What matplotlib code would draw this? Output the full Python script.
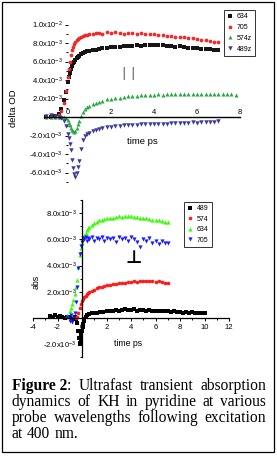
import numpy as np
import matplotlib
matplotlib.use('Agg')
import matplotlib.pyplot as plt
from matplotlib.patches import Rectangle

# ---------------- data (values in units of 1e-3) ----------------
# parallel polarisation (top panel)
t_par = [-1.0, -0.8, -0.6, -0.4, -0.3, -0.2, -0.1, 0.0, 0.05, 0.1,
         0.15, 0.2, 0.25, 0.3, 0.35, 0.4, 0.45, 0.5, 0.6, 0.7,
         0.8, 0.9, 1.0, 1.15, 1.3, 1.45, 1.6, 1.8, 2.0, 2.2,
         2.4, 2.6, 2.8, 3.0, 3.2, 3.4, 3.6, 3.8, 4.0, 4.2,
         4.4, 4.6, 4.8, 5.0, 5.2, 5.4, 5.6, 5.8, 6.0, 6.2,
         6.4, 6.6, 6.8, 7.0]
t_574z = t_par + [7.2, 7.4, 7.6, 7.8]

par_634 = [0.05, 0.0, 0.1, 0.3, 0.9, 1.8, 2.7, 3.8, 4.3, 4.8,
           5.2, 5.5, 5.8, 6.0, 6.2, 6.4, 6.5, 6.6, 6.8, 6.9,
           7.0, 7.1, 7.15, 7.2, 7.3, 7.35, 7.45, 7.5, 7.55, 7.6,
           7.6, 7.65, 7.7, 7.7, 7.75, 7.7, 7.75, 7.8, 7.75, 7.8,
           7.75, 7.7, 7.7, 7.6, 7.65, 7.55, 7.5, 7.5, 7.45, 7.4,
           7.35, 7.35, 7.3, 7.25]
par_705 = [0.0, 0.05, 0.0, 0.2, 0.6, 1.5, 2.8, 4.3, 5.2, 6.0,
           6.7, 7.2, 7.6, 7.9, 8.1, 8.3, 8.4, 8.5, 8.7, 8.8,
           8.9, 8.9, 9.0, 9.0, 9.05, 9.1, 9.0, 9.2, 9.1, 9.15,
           9.1, 9.0, 9.1, 9.05, 9.0, 9.05, 9.0, 8.95, 9.0, 8.85,
           8.9, 8.8, 8.75, 8.7, 8.6, 8.65, 8.5, 8.5, 8.4, 8.35,
           8.3, 8.2, 8.15, 8.1]
par_574z = [0.0, 0.05, 0.0, -0.05, 0.0, -0.05, -0.1, -0.3, -0.6, -0.9,
            -1.2, -1.4, -1.55, -1.6, -1.5, -1.2, -0.8, -0.4, 0.15, 0.55,
            0.85, 1.05, 1.2, 1.4, 1.55, 1.65, 1.75, 1.9, 2.0, 2.05,
            2.1, 2.2, 2.25, 2.3, 2.3, 2.35, 2.4, 2.35, 2.4, 2.45,
            2.4, 2.45, 2.5, 2.45, 2.5, 2.45, 2.5, 2.5, 2.45, 2.5,
            2.5, 2.45, 2.5, 2.5, 2.45, 2.5, 2.45, 2.4]
par_489z = [0.15, 0.2, 0.1, 0.05, -0.1, -0.4, -1.0, -1.8, -2.3, -2.9,
            -3.6, -4.6, -5.5, -6.2, -6.5, -6.1, -5.4, -4.7, -3.5, -2.5,
            -2.1, -1.85, -1.7, -1.5, -1.35, -1.25, -1.2, -1.1, -1.05, -1.0,
            -0.95, -0.9, -0.9, -0.85, -0.85, -0.8, -0.8, -0.75, -0.8, -0.7,
            -0.75, -0.7, -0.65, -0.65, -0.6, -0.65, -0.6, -0.55, -0.6, -0.55,
            -0.5, -0.55, -0.5, -0.45]

# perpendicular polarisation (bottom panel)
t_489 = [-2.6, -2.4, -2.2, -2.0, -1.8, -1.6, -1.4, -1.2, -1.0, -0.8,
         -0.6, -0.5, -0.4, -0.3, -0.25, -0.2, -0.15, -0.1, -0.05, 0.0,
         0.05, 0.1, 0.15, 0.2, 0.3, 0.4, 0.6, 0.8, 1.0, 1.25,
         1.5, 1.75, 2.0, 2.25, 2.5, 2.75, 3.0, 3.25, 3.5, 3.75,
         4.0, 4.25, 4.5, 4.75, 5.0, 5.25, 5.5, 5.75, 6.0, 6.25,
         6.5, 6.75, 7.0, 7.25, 7.5, 7.75, 8.0, 8.25, 8.5, 8.75,
         9.0, 9.25, 9.5, 9.75, 10.0]
perp_489 = [0.15, 0.1, 0.2, 0.05, 0.15, 0.1, 0.0, 0.1, 0.05, -0.1,
            0.1, -0.1, -0.4, -1.0, -1.5, -1.9, -2.0, -1.6, -1.3, -1.0,
            -0.7, -0.45, -0.25, -0.1, 0.1, 0.2, 0.3, 0.35, 0.4, 0.4,
            0.45, 0.45, 0.5, 0.5, 0.55, 0.6, 0.55, 0.6, 0.65, 0.6,
            0.6, 0.65, 0.55, 0.6, 0.6, 0.55, 0.6, 0.5, 0.55, 0.5,
            0.55, 0.5, 0.5, 0.45, 0.5, 0.45, 0.45, 0.4, 0.45, 0.4,
            0.45, 0.4, 0.4, 0.35, 0.4]

t_574 = [-0.5, -0.4, -0.3, -0.2, -0.1, 0.0, 0.1, 0.2, 0.3, 0.4,
         0.5, 0.6, 0.8, 1.0, 1.2, 1.4, 1.6, 1.8, 2.0, 2.25,
         2.5, 2.75, 3.0, 3.25, 3.5, 3.75, 4.0, 4.25, 4.5, 4.75,
         5.0, 5.25, 5.5, 5.75, 6.0, 6.25, 6.5, 6.75, 7.0]
perp_574 = [0.0, 0.1, 0.4, 0.8, 1.1, 1.3, 1.45, 1.6, 1.7, 1.8,
            1.9, 1.95, 2.05, 2.15, 2.25, 2.35, 2.4, 2.45, 2.5, 2.55,
            2.6, 2.6, 2.65, 2.7, 2.7, 2.75, 2.75, 2.8, 2.75, 2.8,
            2.8, 2.85, 2.8, 2.8, 2.75, 2.8, 2.75, 2.7, 2.7]

t_perp = [-1.2, -1.0, -0.9, -0.8, -0.7, -0.6, -0.5, -0.4, -0.3, -0.2,
          -0.1, 0.0, 0.1, 0.2, 0.3, 0.4, 0.5, 0.6, 0.8, 1.0,
          1.2, 1.4, 1.6, 1.8, 2.0, 2.25, 2.5, 2.75, 3.0, 3.25,
          3.5, 3.75, 4.0, 4.25, 4.5, 4.75, 5.0, 5.25, 5.5, 5.75,
          6.0, 6.25, 6.5, 6.75, 7.0]
perp_634 = [0.2, 0.5, 0.8, 1.1, 1.4, 1.8, 2.4, 2.9, 3.9, 4.8,
            5.3, 5.7, 6.0, 6.3, 6.5, 6.7, 6.85, 6.95, 7.1, 7.25,
            7.35, 7.45, 7.5, 7.55, 7.6, 7.65, 7.65, 7.7, 7.75, 7.7,
            7.8, 7.75, 7.8, 7.7, 7.7, 7.65, 7.6, 7.6, 7.55, 7.5,
            7.45, 7.45, 7.4, 7.35, 7.3]
perp_705 = [0.1, -0.2, 0.2, -0.3, 0.0, 0.4, 1.2, 2.4, 3.8, 4.9,
            5.5, 5.8, 6.1, 6.0, 6.2, 5.9, 6.1, 6.0, 6.2, 5.9,
            6.1, 6.0, 6.2, 5.9, 6.1, 6.0, 6.1, 5.8, 6.2, 6.0,
            6.1, 5.9, 6.2, 6.0, 5.8, 5.4, 6.0, 5.9, 6.1, 5.7,
            5.9, 5.6, 5.9, 5.7, 5.7]

top_yticks = [-6, -4, -2, 0, 2, 4, 6, 8, 10]
top_ylabels = ['-6.0x10$^{-3}$', '-4.0x10$^{-3}$', '-2.0x10$^{-3}$', '',
               '2.0x10$^{-3}$', '4.0x10$^{-3}$', '6.0x10$^{-3}$',
               '8.0x10$^{-3}$', '1.0x10$^{-2}$']
bot_yticks = [-2, 0, 2, 4, 6, 8]
bot_ylabels = ['-2.0x10$^{-3}$', '', '2.0x10$^{-3}$', '4.0x10$^{-3}$',
               '6.0x10$^{-3}$', '8.0x10$^{-3}$']

caption = [
    [[('Figure 2', 'bold'), (':', 'normal')], [('Ultrafast', 'normal')],
     [('transient', 'normal')], [('absorption', 'normal')]],
    [[(w, 'normal')] for w in 'dynamics of KH in pyridine at various'.split()],
    [[(w, 'normal')] for w in 'probe wavelengths following excitation'.split()],
    [[(w, 'normal')] for w in 'at 400 nm.'.split()],
]

# ---------------- figure ----------------
plt.rcParams['font.family'] = ['Liberation Sans', 'DejaVu Sans']
plt.rcParams['mathtext.fontset'] = 'custom'
plt.rcParams['mathtext.rm'] = 'Liberation Sans'
plt.rcParams['mathtext.default'] = 'regular'

W, H = 277, 458


def fx(x):
    return x / W


def fy(y):
    return 1 - y / H


fig = plt.figure(figsize=(W / 100, H / 100), dpi=100)
fig.patches.append(Rectangle((fx(2), fy(452)), fx(272), (450) / H, transform=fig.transFigure,
                             fill=False, edgecolor='black', linewidth=0.9))

e3 = 1e-3
tick_fs = 5.5

# ---- top panel (parallel) ----
ax1 = fig.add_axes([fx(40), fy(205), 204 / W, 185 / H])
ax1.set_facecolor('none')
ax1.plot(t_par, np.array(par_634) * e3, 's', ms=2.6, mew=0, color='#151515', label='634')
ax1.plot(t_par, np.array(par_705) * e3, 'o', ms=2.7, mew=0, color='#ee2a2a', label='705')
ax1.plot(t_574z, np.array(par_574z) * e3, '^', ms=2.9, mew=0, color='#27a844', label='574z')
ax1.plot(t_par, np.array(par_489z) * e3, 'v', ms=3.2, mew=0, color='#3b3b9e', label='489z')
ax1.set_xlim(-1.30, 8.19)
ax1.set_ylim(-9.51e-3, 10.49e-3)
for s in ['bottom', 'right']:
    ax1.spines[s].set_visible(False)
ax1.spines['left'].set_position(('data', 0))
ax1.spines['left'].set_visible(False)
ax1.spines['top'].set_position(('data', 0))
ax1.spines['top'].set_bounds(-1.1, 8)
ax1.spines['top'].set_linewidth(1.0)
ax1.xaxis.set_ticks_position('top')
ax1.set_xticks([0, 2, 4, 6, 8])
ax1.set_xticklabels(['0', '2', '4', '6', '8'])
ax1.tick_params(axis='x', length=0, pad=1, labelsize=tick_fs)
ax1.yaxis.set_ticks_position('left')
ax1.set_yticks(np.array(top_yticks) * e3)
ax1.set_yticklabels(top_ylabels)
ax1.set_yticks(np.array([-7, -5, -3, -1, 1, 3, 5, 7, 9]) * e3, minor=True)
ax1.tick_params(axis='y', which='major', direction='out', length=2.5, width=0.7,
                pad=1.5, labelsize=tick_fs)
ax1.tick_params(axis='y', which='minor', direction='out', length=1.5, width=0.7)
leg1 = ax1.legend(loc='upper left', bbox_to_anchor=(fx(224), fy(10)),
                  bbox_transform=fig.transFigure, fontsize=5, frameon=True,
                  fancybox=False, borderpad=0.45, labelspacing=0.55,
                  handlelength=0.9, handletextpad=0.5, borderaxespad=0,
                  markerscale=1.0)
leg1.get_frame().set_edgecolor('black')
leg1.get_frame().set_linewidth(0.7)

fig.text(fx(13), fy(108), 'delta OD', rotation=90, ha='center', va='center', fontsize=6.8)
fig.text(fx(142), fy(142), 'time ps', ha='center', va='center', fontsize=6.8)
fig.text(fx(129), fy(74), '| |', ha='center', va='center', fontsize=9,
         color='#808080', fontweight='bold', family='DejaVu Sans')

# ---- bottom panel (perpendicular) ----
ax2 = fig.add_axes([fx(28), fy(362), 204 / W, 167 / H])
ax2.set_facecolor('none')
ax2.plot(t_489, np.array(perp_489) * e3, 's', ms=2.8, mew=0, color='black', label='489')
ax2.plot(t_574, np.array(perp_574) * e3, 'o', ms=2.6, mew=0, color='#ff1a1a', label='574')
ax2.plot(t_perp, np.array(perp_634) * e3, '^', ms=3.0, mew=0, color='#33ff00', label='634')
ax2.plot(t_perp, np.array(perp_705) * e3, 'v', ms=3.0, mew=0, color='#1a1aff', label='705')
ax2.set_xlim(-4.41, 12.24)
ax2.set_ylim(-3.35e-3, 9.37e-3)
for s in ['top', 'right']:
    ax2.spines[s].set_visible(False)
ax2.spines['left'].set_position(('data', 0))
ax2.spines['left'].set_bounds(-3e-3, 9e-3)
ax2.spines['bottom'].set_position(('data', 0))
ax2.spines['bottom'].set_bounds(-4, 12)
for s in ['left', 'bottom']:
    ax2.spines[s].set_linewidth(0.9)
ax2.set_xticks([-4, -2, 0, 2, 4, 6, 8, 10, 12])
ax2.set_xticklabels(['-4', '-2', '0', '2', '4', '6', '8', '10', '12'])
ax2.set_xticks([-3, -1, 1, 3, 5, 7, 9, 11], minor=True)
ax2.set_yticks(np.array(bot_yticks) * e3)
ax2.set_yticklabels(bot_ylabels)
ax2.set_yticks(np.array([-3, -1, 1, 3, 5, 7, 9]) * e3, minor=True)
ax2.tick_params(which='major', direction='out', length=2.5, width=0.7, pad=1.5,
                labelsize=tick_fs)
ax2.tick_params(which='minor', direction='out', length=1.5, width=0.7)
leg2 = ax2.legend(loc='upper left', bbox_to_anchor=(fx(184), fy(202)),
                  bbox_transform=fig.transFigure, fontsize=5, frameon=True,
                  fancybox=False, borderpad=0.45, labelspacing=0.5,
                  handlelength=0.9, handletextpad=0.5, borderaxespad=0)
leg2.get_frame().set_edgecolor('black')
leg2.get_frame().set_linewidth(0.7)

fig.text(fx(36), fy(282), 'abs', rotation=90, ha='center', va='center', fontsize=6.3)
fig.text(fx(128), fy(343), 'time ps', ha='center', va='center', fontsize=6.3)
fig.text(fx(134), fy(258), '\u22a5', ha='center', va='center', fontsize=13,
         family='DejaVu Sans', fontweight='bold')

# ---- caption (justified) ----
cap_fs = 11.2
cap_family = 'Liberation Serif'
renderer = fig.canvas.get_renderer()


def text_width(s, weight):
    t = fig.text(0, 0, s, fontsize=cap_fs, family=cap_family, fontweight=weight)
    w = t.get_window_extent(renderer).width
    t.remove()
    return w


left, right = 12, 266
baselines = [390, 406, 422, 438]
space = text_width('a a', 'normal') - text_width('aa', 'normal')
for i, (words, yb) in enumerate(zip(caption, baselines)):
    widths = [[text_width(s, wt) for s, wt in word] for word in words]
    total = sum(sum(w) for w in widths)
    if i < len(caption) - 1:
        gap = (right - left - total) / (len(words) - 1)
    else:
        gap = space
    x = left
    for word, ws in zip(words, widths):
        for (s, wt), w in zip(word, ws):
            fig.text(fx(x), fy(yb), s, fontsize=cap_fs, family=cap_family,
                     fontweight=wt, ha='left', va='baseline')
            x += w
        x += gap

fig.savefig('out.png', dpi=100)
